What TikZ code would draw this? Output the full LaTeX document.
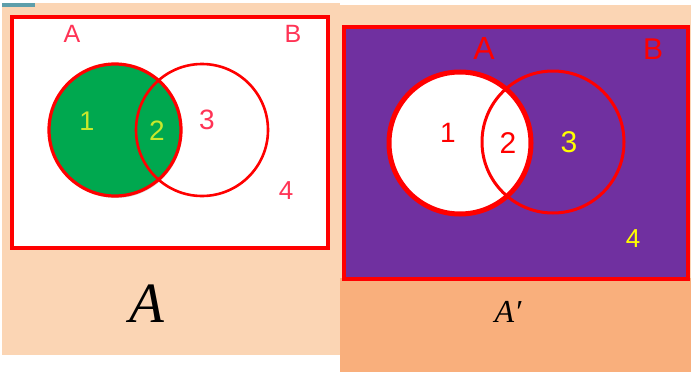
\documentclass[tikz,border=0pt]{standalone}
\usepackage{fontspec}
\setmainfont{Liberation Sans}
\newfontfamily\capfont{Liberation Serif}
\usetikzlibrary{shadows}
\definecolor{peachL}{HTML}{FBD5B4}
\definecolor{peachD}{HTML}{F9AF7C}
\definecolor{purp}{HTML}{7030A0}
\definecolor{grn}{HTML}{00A84F}
\definecolor{teal}{HTML}{5E9EAA}
\definecolor{lgreen}{HTML}{C8E82C}
\definecolor{pinkred}{HTML}{FF3355}
\definecolor{yel}{HTML}{FFFF00}
\begin{document}
\begin{tikzpicture}[x=1pt,y=-1pt,
  lbl/.style={inner sep=0pt,anchor=center},
  frame/.style={draw=red,line width=3.5pt},
  ringthin/.style={draw=red,line width=2.6pt},
]
\useasboundingbox (0,0) rectangle (691,372);
\fill[white] (0,0) rectangle (691,372);
% backgrounds
\fill[peachL] (2,3) rectangle (340,355);
\fill[teal] (2,3) rectangle (35,7);
\fill[peachL] (340,5) rectangle (691,278);
\fill[peachD] (340,278) rectangle (691,372);

% ---------- left panel ----------
\node[frame,fill=white,minimum width=316pt,minimum height=231pt,inner sep=0pt,anchor=north west] (U1) at (10,15) {};
\fill[grn,drop shadow={opacity=0.3,shadow xshift=1pt,shadow yshift=-2pt}] (115,130) circle (66);
\node[ringthin,circle,minimum size=132pt,inner sep=0pt] (B1) at (202,130) {};
\node[draw=red,line width=3.2pt,circle,minimum size=132pt,inner sep=0pt] (A1) at (115,130) {};
\node[lbl,text=pinkred,font=\fontsize{25}{25}\selectfont] (a1) at (72,34) {A};
\node[lbl,text=pinkred,font=\fontsize{25}{25}\selectfont] (b1) at (293,34) {B};
\node[lbl,text=lgreen,font=\fontsize{27}{27}\selectfont] (n11) at (87,121) {1};
\node[lbl,text=lgreen,font=\fontsize{28}{28}\selectfont] (n12) at (157,131) {2};
\node[lbl,text=pinkred,font=\fontsize{28}{28}\selectfont] (n13) at (207,120) {3};
\node[lbl,text=pinkred,font=\fontsize{26}{26}\selectfont] (n14) at (286,191) {4};
\node[lbl,font=\capfont\itshape\fontsize{57}{57}\selectfont] (cap1) at (147,304) {A};

% ---------- right panel ----------
\node[frame,fill=purp,minimum width=344pt,minimum height=252pt,inner sep=0pt,anchor=north west] (U2) at (342,25) {};
\fill[white,drop shadow={opacity=0.35,shadow xshift=1pt,shadow yshift=-2pt}] (460,143) circle (71);
\node[draw=red,line width=3pt,circle,minimum size=142pt,inner sep=0pt] (B2) at (553,142) {};
\node[draw=red,line width=5pt,circle,minimum size=142pt,inner sep=0pt] (A2) at (460,143) {};
\node[lbl,text=red,font=\fontsize{32}{32}\selectfont] (a2) at (484,48) {A};
\node[lbl,text=red,font=\fontsize{30}{30}\selectfont] (b2) at (653,49) {B};
\node[lbl,text=red,font=\fontsize{28}{28}\selectfont] (n21) at (448,133) {1};
\node[lbl,text=red,font=\fontsize{30}{30}\selectfont] (n22) at (508,143) {2};
\node[lbl,text=yel,font=\fontsize{30}{30}\selectfont] (n23) at (569,142) {3};
\node[lbl,text=yel,font=\fontsize{26}{26}\selectfont] (n24) at (633,239) {4};
\node[lbl,font=\capfont\itshape\fontsize{32}{32}\selectfont] (cap2) at (508,312) {A′};
\end{tikzpicture}
\end{document}
